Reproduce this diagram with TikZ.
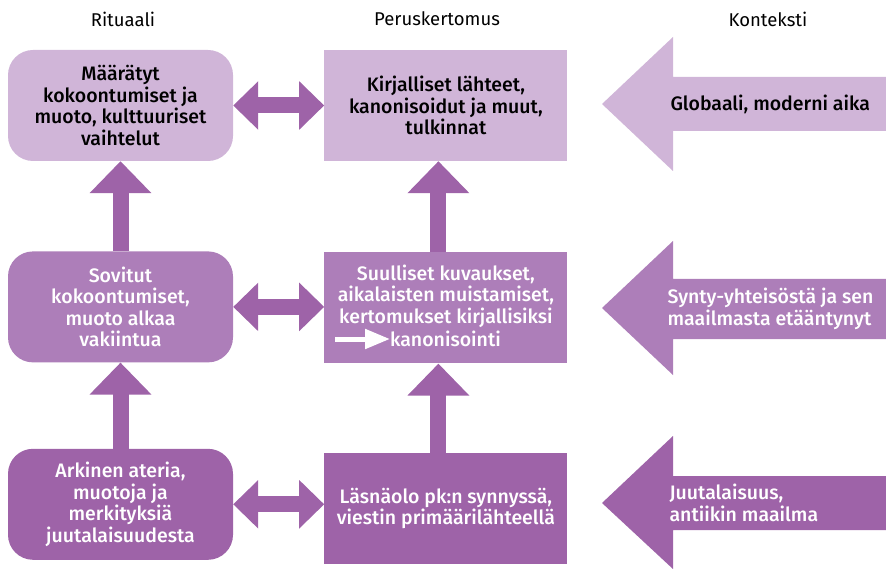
\documentclass[tikz,border=0pt]{standalone}
\usepackage{fontspec}
\setmainfont{Fira Sans Medium}
\newfontfamily\headfont{Fira Sans}
\usepackage{tikz}
\usetikzlibrary{arrows.meta,positioning}
\definecolor{lightp}{RGB}{208,181,216}
\definecolor{midp}{RGB}{173,126,185}
\definecolor{darkp}{RGB}{158,99,168}

\begin{document}
\begin{tikzpicture}[x=1pt, y=-1pt, font=\fontsize{19.5}{21.5}\selectfont,
  ritbox/.style={rounded corners=25pt, align=center, minimum width=225pt, minimum height=111pt, inner sep=0pt},
  perbox/.style={align=center, minimum width=243pt, minimum height=111pt, inner sep=0pt},
  heading/.style={font=\headfont\fontsize{18.5}{21}\selectfont},
  ctxtext/.style={anchor=west, align=left},
  twoway/.style={{Triangle[length=25pt,width=47pt]}-{Triangle[length=25pt,width=47pt]}, line width=16pt, darkp},
  upward/.style={-{Triangle[length=32pt,width=60pt]}, line width=16pt, darkp},
  thinarrow/.style={-{Triangle[length=25pt,width=19pt]}, line width=5pt, white}]
\useasboundingbox (0,0) rectangle (886,569);
% column headings
\node[heading] (hrit) at (123,19) {Rituaali};
\node[heading] (hper) at (437,19) {Peruskertomus};
\node[heading] (hctx) at (768,19) {Konteksti};
% ritual column
\node[ritbox, fill=lightp] (rit1) at (120.5,105.5) {Määrätyt\\kokoontumiset ja\\muoto, kulttuuriset\\vaihtelut};
\node[ritbox, fill=midp, text=white, below=90pt of rit1] (rit2) {Sovitut\\kokoontumiset,\\muoto alkaa\\vakiintua};
\node[ritbox, fill=darkp, text=white, below=86pt of rit2] (rit3) {Arkinen ateria,\\muotoja ja\\merkityksiä\\juutalaisuudesta};
% basic story column
\node[perbox, fill=lightp, right=91pt of rit1] (per1) {Kirjalliset lähteet,\\kanonisoidut ja muut,\\tulkinnat};
\node[perbox, fill=midp, text=white, below=91pt of per1] (per2) {Suulliset kuvaukset,\\aikalaisten muistamiset,\\kertomukset kirjallisiksi\\\strut};
\node[perbox, fill=darkp, text=white, below=89pt of per2] (per3) {Läsnäolo pk:n synnyssä,\\viestin primäärilähteellä};
\node[anchor=west, text=white, inner sep=0pt] (kanon) at (390,339) {kanonisointi};
\coordinate (kstart) at (335,339);
\draw[thinarrow] (kstart) -- (kanon.west);
% context arrows
\fill[lightp] (602,104) -- (673,37) -- (673,77) -- (886,77) -- (886,131) -- (673,131) -- (673,171) -- cycle;
\fill[midp] (602,308) -- (673,241) -- (673,279) -- (886,279) -- (886,339) -- (673,339) -- (673,375) -- cycle;
\fill[darkp] (602,503) -- (673,436) -- (673,476) -- (886,476) -- (886,530) -- (673,530) -- (673,569) -- cycle;
\node[ctxtext] (ctx1) at (667,104) {Globaali, moderni aika};
\node[ctxtext, text=white] (ctx2) at (664,309) {Synty-yhteisöstä ja sen\\maailmasta etääntynyt};
\node[ctxtext, text=white] (ctx3) at (666,503) {Juutalaisuus,\\antiikin maailma};
% connections
\draw[twoway] (rit1.east) -- (rit1.east -| per1.west);
\draw[twoway] (rit2.east) -- (rit2.east -| per2.west);
\draw[twoway] (rit3.east) -- (rit3.east -| per3.west);
\draw[upward] (rit3.north) -- (rit2.south);
\draw[upward] (rit2.north) -- (rit1.south);
\draw[upward] ([xshift=-7.5pt]per3.north) -- ([xshift=-7.5pt]per2.south);
\draw[upward] ([xshift=-7.5pt]per2.north) -- ([xshift=-7.5pt]per1.south);
\end{tikzpicture}
\end{document}
